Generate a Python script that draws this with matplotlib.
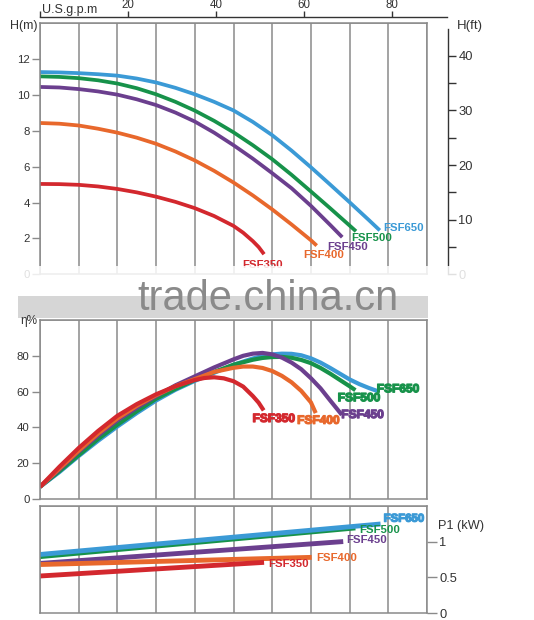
import matplotlib
matplotlib.use('Agg')
import matplotlib.pyplot as plt
import matplotlib.patheffects as pe
from matplotlib.patches import Rectangle

plt.rcParams['font.family'] = ['Liberation Sans', 'DejaVu Sans']

# ---- data (flow in m3/h) ----
models = ['FSF350', 'FSF400', 'FSF450', 'FSF500', 'FSF650']

# head H(m)
q_h350 = [0, 1, 2, 3, 4, 5, 6, 7, 8, 9, 10, 10.5, 11, 11.3, 11.58]
h350 = [5.04, 5.03, 4.99, 4.9, 4.76, 4.57, 4.33, 4.04, 3.69, 3.25, 2.7, 2.32, 1.85, 1.52, 1.12]
q_h400 = [0, 1, 2, 3, 4, 5, 6, 7, 8, 9, 10, 11, 12, 13, 14, 14.3]
h400 = [8.44, 8.4, 8.3, 8.12, 7.9, 7.62, 7.28, 6.85, 6.35, 5.77, 5.12, 4.4, 3.62, 2.78, 1.9, 1.6]
q_h450 = [0, 1, 2, 3, 4, 5, 6, 7, 8, 9, 10, 11, 12, 13, 14, 15, 15.62]
h450 = [10.45, 10.42, 10.33, 10.2, 10.02, 9.76, 9.44, 9.02, 8.52, 7.9, 7.2, 6.45, 5.64, 4.8, 3.82, 2.75, 2.07]
q_h500 = [0, 1, 2, 3, 4, 5, 6, 7, 8, 9, 10, 11, 12, 13, 14, 15, 16, 16.33]
h500 = [11.04, 11.01, 10.94, 10.82, 10.64, 10.38, 10.04, 9.62, 9.13, 8.56, 7.92, 7.2, 6.42, 5.55, 4.62, 3.68, 2.72, 2.4]
q_h650 = [0, 1, 2, 3, 4, 5, 6, 7, 8, 9, 10, 11, 12, 13, 14, 15, 16, 17, 17.56]
h650 = [11.28, 11.26, 11.22, 11.16, 11.08, 10.92, 10.7, 10.4, 10.04, 9.62, 9.14, 8.5, 7.76, 6.9, 5.97, 5.0, 4.02, 3.02, 2.45]

# efficiency eta(%)
q_e350 = [0, 1, 2, 3, 4, 5, 6, 7, 8, 8.5, 9, 9.5, 10, 10.5, 11, 11.3, 11.56]
e350 = [6.8, 18, 28.5, 38, 46.5, 53, 58.5, 63, 66.5, 67.6, 68, 67.4, 65.8, 62.8, 57.5, 53.8, 49.5]
q_e400 = [0, 1, 2, 3, 4, 5, 6, 7, 8, 9, 10, 10.5, 11, 11.5, 12, 12.5, 13, 13.5, 14, 14.25]
e400 = [6.8, 17, 27, 36.5, 45, 52, 58, 63, 67, 71, 73.3, 74, 74, 73.2, 71.5, 68.8, 65.2, 60.4, 54, 48]
q_e450 = [0, 1, 2, 3, 4, 5, 6, 7, 8, 9, 10, 10.5, 11, 11.5, 12, 12.5, 13, 13.5, 14, 14.5, 15, 15.6]
e450 = [6.8, 16.5, 26.5, 35.5, 44, 51, 57.5, 63.5, 68.5, 73.5, 78, 80, 81.2, 81.6, 80.8, 79, 76.2, 72.5, 67.5, 61.8, 55, 47]
q_e500 = [0, 1, 2, 3, 4, 5, 6, 7, 8, 9, 10, 11, 11.5, 12, 12.5, 13, 13.5, 14, 14.5, 15, 15.5, 16, 16.3]
e500 = [6.8, 15.5, 24.5, 33.5, 41.5, 49, 56, 61.5, 66.5, 71, 75, 77.8, 78.8, 79.3, 79.4, 78.9, 77.7, 75.9, 73.2, 70, 66.5, 63, 60.8]
q_e650 = [0, 1, 2, 3, 4, 5, 6, 7, 8, 9, 10, 11, 11.5, 12, 12.5, 13, 13.5, 14, 14.5, 15, 15.5, 16, 16.5, 17, 17.44]
e650 = [6.8, 15, 24, 32.5, 40.5, 48, 55, 61, 66, 70.5, 75, 78.5, 79.9, 80.8, 81.2, 81.1, 80.3, 78.6, 76.2, 73.2, 70, 66.8, 64.2, 62, 60.3]

# input power P1 (kW), straight lines
q_p350, p350 = [0, 11.58], [0.52, 0.71]
q_p400, p400 = [0, 14.04], [0.68, 0.78]
q_p450, p450 = [0, 15.67], [0.695, 1.0]
q_p500, p500 = [0, 16.3], [0.79, 1.19]
q_p650, p650 = [0, 17.6], [0.82, 1.245]

head = {'FSF350': (q_h350, h350), 'FSF400': (q_h400, h400), 'FSF450': (q_h450, h450),
        'FSF500': (q_h500, h500), 'FSF650': (q_h650, h650)}
eff = {'FSF350': (q_e350, e350), 'FSF400': (q_e400, e400), 'FSF450': (q_e450, e450),
       'FSF500': (q_e500, e500), 'FSF650': (q_e650, e650)}
power = {'FSF350': (q_p350, p350), 'FSF400': (q_p400, p400), 'FSF450': (q_p450, p450),
         'FSF500': (q_p500, p500), 'FSF650': (q_p650, p650)}

gpm_ticks = [0, 20, 40, 60, 80]
gpm_labels = ['', '20', '40', '60', '80']
ft_major = [0, 10, 20, 30, 40]
ft_minor = [5, 15, 25, 35]

colors = {'FSF350': '#d3282e', 'FSF400': '#e8682c', 'FSF450': '#6b3f8e',
          'FSF500': '#17924a', 'FSF650': '#3b9ad6'}

GPM_PER_M3H = 4.40287
FT_PER_M = 3.28084
GRID = '#8a8a8a'
TXT = '#333333'

W, H = 534, 620
fig = plt.figure(figsize=(W / 100, H / 100), dpi=100)


def box(l, t, r, b):
    return [l / W, 1 - b / H, (r - l) / W, (b - t) / H]


def style_grid(ax, ymax, ystep):
    ax.set_xlim(0, 20)
    ax.set_ylim(0, ymax)
    ax.set_xticks(range(0, 21, 2))
    ax.set_yticks([i * ystep for i in range(int(round(ymax / ystep)) + 1)], minor=True)
    ax.grid(True, which='both', color=GRID, lw=1.1)
    ax.grid(False, which='major', axis='y')
    ax.tick_params(axis='x', length=0, labelbottom=False)
    for s in ax.spines.values():
        s.set_color(GRID)
        s.set_linewidth(1.1)
    ax.set_axisbelow(True)


# ---- head panel ----
ax1 = fig.add_axes(box(40, 23.3, 427, 274.3))
style_grid(ax1, 14, 2)
ax1.set_yticks(range(0, 13, 2))
ax1.tick_params(axis='y', which='both', length=6, width=1, color=GRID, labelsize=8.2,
                labelcolor=TXT, pad=1.5)
ax1.tick_params(axis='y', which='minor', length=0)
for m in models[::-1]:
    q, h = head[m]
    ax1.plot(q, h, color=colors[m], lw=2.7, solid_capstyle='butt', solid_joinstyle='round')
lab1 = {'FSF650': (18.81, 2.60), 'FSF500': (17.16, 2.04), 'FSF450': (15.92, 1.54),
        'FSF400': (14.68, 1.06), 'FSF350': (11.52, 0.50)}
for m, (x, y) in lab1.items():
    ax1.text(x, y, m, color=colors[m], fontsize=8.2, fontweight='bold',
             ha='center', va='center', clip_on=False)
fig.text(10 / W, 1 - 26 / H, 'H(m)', fontsize=9, color=TXT, ha='left', va='center')

# US gpm scale on top
axg = fig.add_axes(box(40, 17.3, 447, 17.4))
axg.set_xlim(0, 20 * 407 / 387 * GPM_PER_M3H)
axg.set_facecolor('none')
for k in ['left', 'right', 'bottom']:
    axg.spines[k].set_visible(False)
axg.spines['top'].set_color(TXT)
axg.spines['top'].set_linewidth(1)
axg.set_yticks([])
axg.xaxis.tick_top()
axg.set_xticks(gpm_ticks)
axg.set_xticklabels(gpm_labels)
axg.tick_params(axis='x', direction='out', length=4, width=1, color=TXT,
                labelsize=8.3, labelcolor=TXT, pad=0.3)
fig.text(42 / W, 1 - 10 / H, 'U.S.g.p.m', fontsize=9, color=TXT, ha='left', va='center')

# feet scale on right
axf = fig.add_axes(box(440, 29.3, 448, 274.3))
axf.set_ylim(0, (274.3 - 29.3) / (274.3 - 23.3) * 14 * FT_PER_M)
axf.set_facecolor('none')
for k in ['left', 'top', 'bottom']:
    axf.spines[k].set_visible(False)
axf.spines['right'].set_color(TXT)
axf.spines['right'].set_linewidth(1)
axf.set_xticks([])
axf.yaxis.tick_right()
axf.set_yticks(ft_major)
axf.set_yticks(ft_minor, minor=True)
axf.tick_params(axis='y', which='both', direction='out', length=6, width=1, color=TXT,
                labelsize=9.3, labelcolor=TXT, pad=1.5)
fig.text(457 / W, 1 - 26 / H, 'H(ft)', fontsize=9.5, color=TXT, ha='left', va='center')

# ---- efficiency panel ----
ax2 = fig.add_axes(box(40, 320, 427, 499))
style_grid(ax2, 100, 20)
ax2.set_yticks(range(0, 81, 20))
ax2.tick_params(axis='y', which='both', length=6, width=1, color=GRID, labelsize=8.2,
                labelcolor=TXT, pad=1.5)
ax2.tick_params(axis='y', which='minor', length=0)
for m in ['FSF650', 'FSF500', 'FSF450', 'FSF400', 'FSF350']:
    q, e = eff[m]
    ax2.plot(q, e, color=colors[m], lw=3, solid_capstyle='butt', solid_joinstyle='round')
lab2 = {'FSF650': (18.50, 61.3), 'FSF500': (16.49, 56.3), 'FSF450': (16.67, 46.9),
        'FSF400': (14.39, 43.7), 'FSF350': (12.08, 44.7)}
for m, (x, y) in lab2.items():
    c = colors['FSF500'] if m == 'FSF650' else colors[m]
    ax2.text(x, y, m, color=c, fontsize=8.6, fontweight='bold', ha='center', va='center',
             clip_on=False, path_effects=[pe.withStroke(linewidth=0.9, foreground=c)])
fig.text(20 / W, 1 - 321 / H, 'η%', fontsize=8.5, color=TXT, ha='left', va='center')

# ---- power panel ----
ax3 = fig.add_axes(box(40, 505.7, 427, 613.3))
style_grid(ax3, 1.5, 0.5)
ax3.set_yticks([0, 0.5, 1])
ax3.set_yticklabels(['0', '0.5', '1'])
ax3.yaxis.tick_right()
ax3.tick_params(axis='y', which='both', length=7, width=1, color=GRID, labelsize=9.3,
                labelcolor=TXT, pad=2)
ax3.tick_params(axis='y', which='minor', length=0)
for m in ['FSF500', 'FSF650', 'FSF450', 'FSF400', 'FSF350']:
    q, p = power[m]
    ax3.plot(q, p, color=colors[m], lw=3.5, solid_capstyle='butt')
lab3 = {'FSF650': (18.81, 1.319), 'FSF500': (17.57, 1.155), 'FSF450': (16.90, 1.015),
        'FSF400': (15.35, 0.769), 'FSF350': (12.82, 0.685)}
for m, (x, y) in lab3.items():
    eff_ = [pe.withStroke(linewidth=0.9, foreground=colors[m])] if m == 'FSF650' else []
    ax3.text(x, y, m, color=colors[m], fontsize=8.2, fontweight='bold', ha='center',
             va='center', clip_on=False, path_effects=eff_)
fig.text(438 / W, 1 - 526 / H, 'P1 (kW)', fontsize=9.2, color=TXT, ha='left', va='center')

# ---- watermark band between panels ----
fig.patches.append(Rectangle((8 / W, 1 - 296 / H), 470 / W, 30 / H, transform=fig.transFigure,
                             facecolor='white', edgecolor='none', alpha=0.85, zorder=2))
fig.patches.append(Rectangle((18 / W, 1 - 318 / H), 410 / W, 22 / H, transform=fig.transFigure,
                             facecolor='#d6d6d6', edgecolor='none', zorder=2))
fig.text(268 / W, 1 - 310 / H, 'trade.china.cn', fontsize=30, color='#8a8a8a',
         ha='center', va='baseline', zorder=3)

fig.savefig('out.png', dpi=100)
